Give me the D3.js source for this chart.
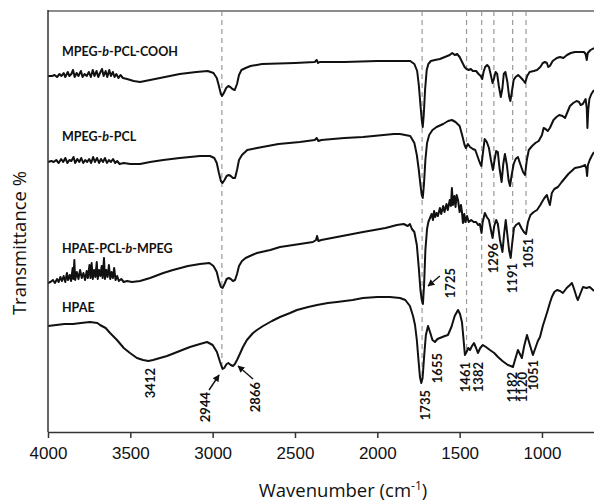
<!DOCTYPE html>
<html>
<head>
<meta charset="utf-8">
<script src="https://cdn.jsdelivr.net/npm/d3@7"></script>
<style>
  body { margin: 0; background: #fff; }
  svg text { fill: #111; }
</style>
</head>
<body>
<div id="chart"></div>
<script>
// FTIR spectra, transmittance values in a.u. (curves offset for clarity)
var xTicks = [4000, 3500, 3000, 2500, 2000, 1500, 1000];

var cooh = [[4000,356],[3975,356],[3960,357],[3945,355],[3930,358],[3918,356],[3905,359],[3895,355],[3880,360],[3870,356],[3858,358],[3848,362],[3838,355],[3826,359],[3815,356],[3800,361],[3790,355],[3778,358],[3765,356],[3752,360],[3740,355],[3728,362],[3718,356],[3705,361],[3695,355],[3684,359],[3672,363],[3662,356],[3650,361],[3640,355],[3628,362],[3618,356],[3606,360],[3596,355],[3585,358],[3572,354],[3560,357],[3545,354],[3520,353],[3480,351],[3441,350],[3380,352],[3320,354],[3200,358],[3100,360],[3030,361],[2995,359],[2975,354],[2962,346],[2950,338],[2943,336],[2932,339],[2918,344],[2905,346],[2893,345],[2880,343],[2866,342],[2852,348],[2840,357],[2825,362],[2800,364],[2770,366],[2700,368],[2500,369],[2380,370],[2368,372],[2360,369],[2350,370],[2200,370],[2000,371],[1850,371],[1800,371],[1775,368],[1758,361],[1748,347],[1738,327],[1730,312],[1724,305],[1718,317],[1710,342],[1700,362],[1690,368],[1675,371],[1650,372],[1620,373],[1590,375],[1560,377],[1545,379],[1530,377],[1515,378],[1500,375],[1485,370],[1470,365],[1458,363],[1445,362],[1432,363],[1420,361],[1400,361],[1385,358],[1372,356],[1363,353],[1355,360],[1345,365],[1333,367],[1322,365],[1312,358],[1300,349],[1292,353],[1282,360],[1272,358],[1262,346],[1250,335],[1240,344],[1232,358],[1222,360],[1210,350],[1200,336],[1192,331],[1183,340],[1172,352],[1160,355],[1145,357],[1132,355],[1115,352],[1102,349],[1090,356],[1075,360],[1050,361],[1030,362],[1010,365],[995,369],[982,370],[970,369],[962,365],[952,366],[935,371],[910,374],[890,375],[870,374],[848,377],[825,379],[800,380],[770,380],[745,380],[735,378],[728,372],[722,379],[705,382],[684,384]];

var pcl = [[4000,270],[3980,271],[3965,270],[3950,272],[3935,269],[3920,273],[3908,270],[3895,274],[3882,269],[3870,272],[3858,271],[3845,275],[3835,269],[3822,273],[3810,270],[3798,274],[3786,269],[3774,272],[3762,270],[3750,273],[3738,269],[3726,275],[3715,270],[3702,274],[3690,269],[3678,273],[3666,270],[3654,274],[3642,269],[3630,272],[3618,270],[3605,273],[3592,269],[3580,271],[3565,268],[3540,269],[3500,268],[3441,268],[3380,270],[3300,272],[3200,274],[3077,276],[3016,276],[2990,274],[2975,269],[2962,259],[2950,251],[2940,249],[2928,252],[2915,256],[2902,257],[2890,256],[2877,254],[2864,254],[2852,262],[2840,272],[2822,277],[2790,282],[2731,284],[2600,288],[2470,290],[2380,292],[2368,294],[2358,291],[2340,292],[2200,294],[2087,295],[1900,298],[1862,298],[1800,296],[1775,289],[1760,277],[1748,262],[1738,247],[1730,237],[1724,234],[1717,247],[1708,272],[1698,289],[1685,297],[1665,302],[1640,305],[1600,308],[1570,311],[1547,312],[1525,310],[1500,306],[1485,297],[1470,287],[1462,284],[1450,288],[1437,285],[1420,283],[1405,282],[1390,275],[1377,269],[1368,266],[1360,277],[1348,293],[1335,290],[1322,284],[1310,272],[1298,262],[1288,272],[1278,281],[1268,280],[1258,264],[1245,250],[1235,268],[1225,278],[1213,267],[1203,252],[1194,246],[1185,256],[1172,268],[1160,273],[1146,275],[1134,269],[1115,260],[1103,257],[1092,272],[1080,282],[1060,286],[1040,289],[1020,291],[1000,297],[990,304],[978,303],[965,301],[952,304],[930,312],[912,315],[895,317],[875,316],[860,314],[845,320],[830,326],[810,329],[790,331],[775,330],[765,327],[752,328],[735,333],[728,324],[724,304],[719,322],[712,333],[700,338],[684,342]];

var hpaePcl = [[4000,149],[3985,150],[3970,152],[3958,149],[3945,153],[3935,150],[3925,155],[3915,151],[3905,156],[3895,150],[3885,159],[3878,152],[3868,157],[3860,151],[3850,164],[3846,153],[3840,172],[3835,152],[3825,160],[3815,153],[3805,162],[3795,154],[3785,159],[3775,152],[3765,161],[3758,154],[3748,167],[3742,154],[3735,169],[3728,153],[3720,162],[3712,155],[3704,170],[3698,153],[3690,162],[3682,156],[3674,166],[3668,154],[3660,174],[3654,153],[3646,162],[3638,155],[3630,167],[3622,153],[3614,160],[3606,154],[3598,164],[3590,152],[3580,156],[3570,151],[3555,153],[3540,150],[3520,151],[3490,150],[3441,151],[3380,154],[3300,159],[3241,162],[3150,166],[3077,168],[3020,169],[2995,166],[2975,160],[2962,151],[2950,145],[2940,144],[2928,148],[2915,153],[2902,154],[2890,153],[2877,151],[2864,152],[2852,158],[2840,166],[2822,171],[2800,174],[2760,177],[2731,179],[2650,182],[2591,185],[2470,188],[2391,190],[2372,192],[2366,196],[2358,191],[2340,192],[2245,195],[2087,200],[1950,204],[1881,207],[1840,208],[1815,206],[1802,208],[1790,203],[1775,200],[1760,187],[1748,164],[1738,142],[1730,132],[1723,128],[1716,147],[1708,182],[1698,203],[1690,210],[1680,214],[1670,218],[1662,212],[1655,221],[1648,215],[1640,219],[1632,216],[1620,224],[1612,218],[1600,226],[1592,220],[1580,228],[1572,222],[1560,232],[1553,226],[1547,244],[1541,227],[1532,236],[1525,225],[1518,237],[1510,232],[1500,220],[1492,227],[1486,220],[1480,209],[1472,218],[1465,210],[1455,216],[1445,210],[1430,212],[1415,210],[1400,210],[1388,207],[1377,208],[1367,199],[1360,210],[1347,219],[1335,215],[1322,212],[1310,202],[1300,194],[1290,206],[1278,212],[1268,208],[1255,192],[1240,180],[1230,198],[1220,212],[1210,197],[1200,182],[1190,174],[1182,187],[1170,204],[1158,207],[1140,209],[1125,204],[1110,200],[1097,198],[1085,210],[1070,217],[1050,220],[1030,222],[1010,227],[1000,230],[985,234],[970,237],[960,231],[952,227],[940,239],[925,243],[903,245],[880,250],[860,254],[840,258],[820,261],[800,264],[770,265],[750,266],[738,267],[730,263],[726,256],[721,267],[710,272],[695,277],[684,280]];

var hpae = [[4000,106],[3950,107],[3900,108],[3848,108],[3800,109],[3745,110],[3700,109],[3684,107],[3650,104],[3623,99],[3581,92],[3540,84],[3502,79],[3460,74],[3423,72],[3390,71],[3362,72],[3320,74],[3277,76],[3200,81],[3138,85],[3077,88],[3034,90],[3000,87],[2974,80],[2955,70],[2940,63],[2930,64],[2915,68],[2905,69],[2890,67],[2877,66],[2865,68],[2852,72],[2835,78],[2816,85],[2792,92],[2755,99],[2731,102],[2694,106],[2640,111],[2591,115],[2530,119],[2488,122],[2420,125],[2366,127],[2300,129],[2245,130],[2150,132],[2087,134],[2000,135],[1923,135],[1862,134],[1830,132],[1802,126],[1783,116],[1771,107],[1760,92],[1750,72],[1741,55],[1733,49],[1725,54],[1715,77],[1705,97],[1692,106],[1680,100],[1665,92],[1650,90],[1635,93],[1620,94],[1590,96],[1571,97],[1550,105],[1530,116],[1510,122],[1498,118],[1486,110],[1476,92],[1468,77],[1458,80],[1448,84],[1437,82],[1425,86],[1413,89],[1400,84],[1389,79],[1375,84],[1359,87],[1340,85],[1316,82],[1290,79],[1267,75],[1240,71],[1207,67],[1190,66],[1176,65],[1164,72],[1146,82],[1134,78],[1122,74],[1108,86],[1091,97],[1075,88],[1055,77],[1040,84],[1025,91],[1012,95],[995,106],[970,119],[952,129],[940,135],[925,140],[909,142],[890,141],[873,139],[850,144],[830,147],[818,149],[805,143],[790,135],[782,132],[770,137],[751,145],[730,144],[710,145],[690,142],[684,141]];

var spectra = [cooh, pcl, hpaePcl, hpae];

// series names: [plain, italic, plain ...] pieces, position in data units
var seriesNames = [
  [["MPEG-", false], ["b", true], ["-PCL-COOH", false]],
  [["MPEG-", false], ["b", true], ["-PCL", false]],
  [["HPAE-PCL-", false], ["b", true], ["-MPEG", false]],
  [["HPAE", false]]
];
var namePos = [[3915, 376], [3915, 291], [3915, 179], [3915, 120]];

// peak labels
var peakText = ["3412", "2944", "2866", "1735", "1655", "1461", "1382", "1182", "1120", "1051", "1725", "1296", "1191", "1051"];
var peakPos = [[3381, 64], [3047, 40], [2743, 50], [1711, 42], [1638, 79], [1468, 70], [1389, 70], [1182, 60], [1118, 60], [1055, 72], [1559, 164], [1298, 189], [1179, 169], [1085, 194]];

// arrows [fromW, fromV, toW, toV]
var arrows = [[3022, 42, 2961, 57], [2755, 53, 2846, 66], [1620, 156, 1692, 146]];

// dashed guide lines [wavenumber, lower end]
var guides = [[2944, 63], [1728, 51], [1458, 83], [1366, 93], [1292, 205], [1178, 199], [1097, 214]];

var width = 594, height = 503;
var plotLeft = 48, plotRight = 594, plotTop = 11, plotBottom = 432;

var svg = d3.select("#chart").append("svg")
  .attr("width", width)
  .attr("height", height);

var x = d3.scaleLinear().domain([4000, 684]).range([plotLeft, plotRight]);
var y = d3.scaleLinear().domain([0, 421]).range([plotBottom, plotTop]);

var defs = svg.append("defs");
defs.append("marker")
  .attr("id", "head")
  .attr("viewBox", "0 0 10 10")
  .attr("refX", 9).attr("refY", 5)
  .attr("markerWidth", 7).attr("markerHeight", 7)
  .attr("markerUnits", "userSpaceOnUse")
  .attr("orient", "auto")
  .append("path").attr("d", "M0,0L10,5L0,10z").attr("fill", "#111");

// guides
svg.append("g").selectAll("line").data(guides).enter().append("line")
  .attr("x1", function(d) { return x(d[0]); })
  .attr("x2", function(d) { return x(d[0]); })
  .attr("y1", y(421))
  .attr("y2", function(d) { return y(d[1]); })
  .attr("stroke", "#9a9a9a")
  .attr("stroke-width", 1.2)
  .attr("stroke-dasharray", "5,4");

// spectra
var line = d3.line()
  .x(function(d) { return x(d[0]); })
  .y(function(d) { return y(d[1]); });

svg.append("g").selectAll("path").data(spectra).enter().append("path")
  .attr("d", line)
  .attr("fill", "none")
  .attr("stroke", "#111")
  .attr("stroke-width", 2)
  .attr("stroke-linejoin", "round");

// frame
svg.append("line")
  .attr("x1", plotLeft).attr("x2", plotRight)
  .attr("y1", plotTop).attr("y2", plotTop)
  .attr("stroke", "#8c8c8c").attr("stroke-width", 2);
svg.append("line")
  .attr("x1", plotLeft).attr("x2", plotLeft)
  .attr("y1", plotTop - 1).attr("y2", plotBottom)
  .attr("stroke", "#333").attr("stroke-width", 1.5);

var xAxis = svg.append("g")
  .attr("transform", "translate(0," + plotBottom + ")")
  .call(d3.axisBottom(x).tickValues(xTicks).tickFormat(d3.format("d"))
    .tickSize(6).tickSizeOuter(0).tickPadding(9));
xAxis.select(".domain").attr("stroke", "#333").attr("stroke-width", 1.5);
xAxis.selectAll(".tick line").attr("stroke", "#333").attr("stroke-width", 1.5);
xAxis.selectAll(".tick text")
  .attr("font-family", "Liberation Sans, Arial, sans-serif")
  .attr("font-size", 17)
  .attr("fill", "#222");

// axis titles
var xTitle = svg.append("text")
  .attr("x", 343).attr("y", 497)
  .attr("text-anchor", "middle")
  .attr("font-family", "Open Sans, sans-serif")
  .attr("font-size", 18.5)
  .attr("fill", "#222");
xTitle.append("tspan").text("Wavenumber (cm");
xTitle.append("tspan").attr("font-size", 12).attr("dy", -7).text("-1");
xTitle.append("tspan").attr("dy", 7).text(")");

svg.append("text")
  .attr("transform", "translate(26,243)rotate(-90)")
  .attr("text-anchor", "middle")
  .attr("font-family", "Open Sans, sans-serif")
  .attr("font-size", 18.5)
  .attr("fill", "#222")
  .text("Transmittance %");

// series names
seriesNames.forEach(function(parts, i) {
  var t = svg.append("text")
    .attr("x", x(namePos[i][0]))
    .attr("y", y(namePos[i][1]))
    .attr("font-family", "Lato, sans-serif")
    .attr("font-weight", "bold")
    .attr("font-size", 12.5);
  parts.forEach(function(p) {
    t.append("tspan").attr("font-style", p[1] ? "italic" : "normal").text(p[0]);
  });
});

// peak labels
svg.append("g").selectAll("text").data(peakText).enter().append("text")
  .attr("transform", function(d, i) {
    return "translate(" + x(peakPos[i][0]) + "," + y(peakPos[i][1]) + ")rotate(-90)";
  })
  .attr("text-anchor", "end")
  .attr("dy", "0.36em")
  .attr("font-family", "Lato, sans-serif")
  .attr("font-weight", "bold")
  .attr("font-size", 13)
  .text(function(d) { return d; });

// arrows
svg.append("g").selectAll("line").data(arrows).enter().append("line")
  .attr("x1", function(d) { return x(d[0]); })
  .attr("y1", function(d) { return y(d[1]); })
  .attr("x2", function(d) { return x(d[2]); })
  .attr("y2", function(d) { return y(d[3]); })
  .attr("stroke", "#111")
  .attr("stroke-width", 1.4)
  .attr("marker-end", "url(#head)");
</script>
</body>
</html>
